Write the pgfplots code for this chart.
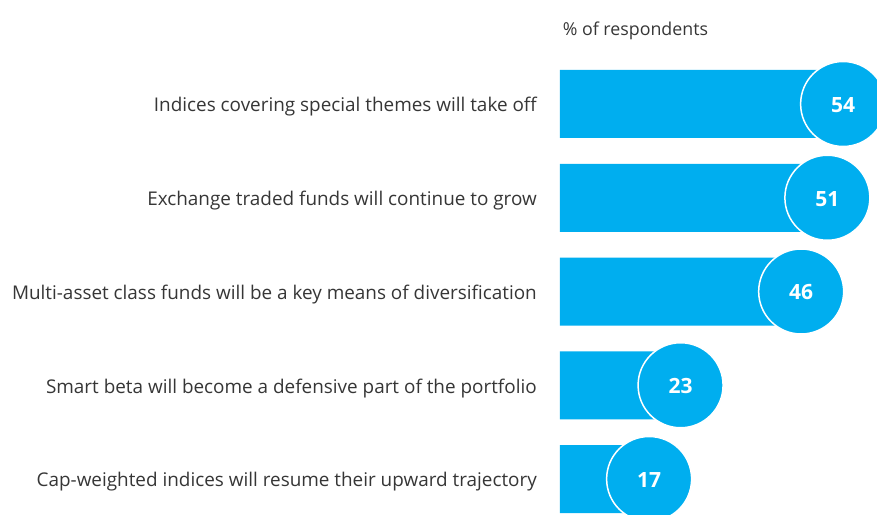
\documentclass[border=0pt]{standalone}
\usepackage{pgfplots}
\pgfplotsset{compat=1.18}
\usepackage{fontspec}
\setmainfont{Open Sans}
\definecolor{barblue}{HTML}{00AEEF}
\definecolor{txt}{HTML}{363636}
\begin{document}
\begin{tikzpicture}[x=1pt,y=1pt]
\useasboundingbox (-560,0) rectangle (317,514);
\clip (-560,0) rectangle (317,514);
\begin{axis}[
  scale only axis, width=317pt, height=514pt,
  xmin=0, xmax=60.46,
  y dir=reverse, ymin=-1.1093, ymax=4.3733,
  axis line style={draw=none},
  major tick length=0pt,
  xtick=\empty,
  ytick={0,1,2,3,4},
  yticklabels={Indices covering special themes will take off,
    Exchange traded funds will continue to grow,
    Multi-asset class funds will be a key means of diversification,
    Smart beta will become a defensive part of the portfolio,
    Cap-weighted indices will resume their upward trajectory},
  yticklabel style={font=\fontsize{18.9}{21}\selectfont, text=txt, anchor=east, inner sep=0pt, xshift=-23pt, yshift=-3pt},
  clip=false,
]
\addplot[xbar, bar width=68pt, bar shift=0pt, fill=barblue, draw=none]
  coordinates {(54,0) (51,1) (46,2) (23,3) (17,4)};
\addplot[only marks, mark=*, mark size=42.5pt,
  mark options={fill=barblue, draw=white, line width=1.5pt},
  nodes near coords, point meta=explicit symbolic,
  every node near coord/.style={anchor=center, text=white, font=\fontsize{21}{23}\selectfont\bfseries, yshift=-1pt}]
  coordinates {(54,0) [54] (51,1) [51] (46,2) [46] (23,3) [23] (17,4) [17]};
\node[anchor=west, text=txt, font=\fontsize{17.8}{20}\selectfont, inner sep=0pt] at (axis cs:0.5,-0.785) {\% of respondents};
\end{axis}
\end{tikzpicture}
\end{document}
